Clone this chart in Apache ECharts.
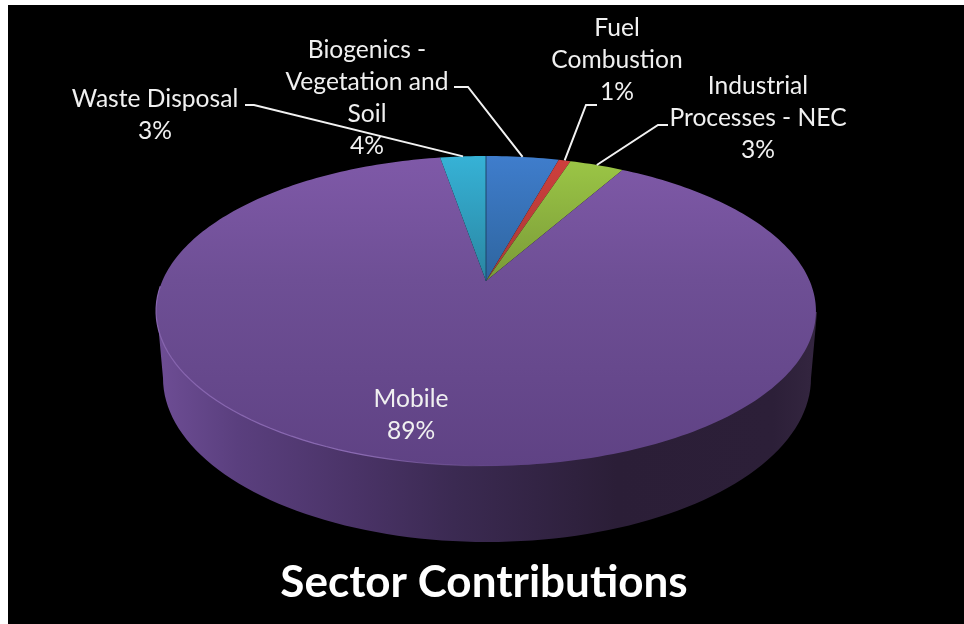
<!DOCTYPE html>
<html><head><meta charset="utf-8">
<style>html,body{margin:0;padding:0;background:#fff}#c{width:964px;height:624px}</style>
<script src="https://cdn.jsdelivr.net/npm/echarts@6/dist/echarts.min.js"></script>
</head><body><div id="c"></div>
<script>
const sectors = ['Biogenics -\nVegetation and\nSoil', 'Fuel\nCombustion', 'Industrial\nProcesses - NEC', 'Mobile', 'Waste Disposal'];
const shares = [4.3, 0.7, 3.2, 89.1, 2.7];
const chartTitle = 'Sector Contributions';

// Layout and style, kept apart from the data
const labelCentre = [[367, 98], [617, 60], [758, 118], [411, 415], [155, 115]];
const leaderElbow = [[[454, 87], [468, 87]], [[597, 105], [586, 105]], [[668, 125], [658, 125]], null, [[245, 105], [254, 105]]];
const shades = [
  [[0, '#3f7dcc'], [0.4, '#2e659f']],
  [[0, '#cf3f3c'], [0.4, '#a83a38']],
  [[0, '#9cc746'], [0.4, '#7a9a38']],
  [[0, '#7f59a8'], [0.4, '#6e4f95'], [1, '#5f4284']],
  [[0, '#36b2d6'], [0.4, '#2a86a2']]
];
const FONT = 'Lato, Carlito, sans-serif';

// Projection of the tilted disc (angle clockwise from the far side of the disc)
const disc = {cx: 486, y0: 281, a: 323.7, b: 94.8, k: 0.1935};
function rim(t, r) {
  r = r === undefined ? 1 : r;
  const x = r * Math.sin(t), y = r * Math.cos(t), w = 1 + disc.k * y;
  return [disc.cx + disc.a * x / w, (disc.y0 - disc.b * y) / w];
}
const base = {cx: 487, cy: 378, rx: 324, ry: 164};
const total = shares.reduce((s, v) => s + v, 0);

function renderItem(params, api) {
  const i = params.dataIndex, v = api.value(0);
  let before = 0;
  for (let j = 0; j < i; j++) before += shares[j];
  const a0 = before / total * 2 * Math.PI, a1 = (before + v) / total * 2 * Math.PI;
  const children = [];

  // side wall: drawn with the slice that spans the near half of the disc
  if (a1 - a0 > Math.PI) {
    const pts = [[157, 312]];
    for (let d = 180; d >= 0; d -= 2) {
      const r = d * Math.PI / 180;
      pts.push([base.cx + base.rx * Math.cos(r), base.cy + base.ry * Math.sin(r)]);
    }
    pts.push([817, 312]);
    children.push({type: 'polygon', z2: 1, shape: {points: pts}, style: {
      fill: {type: 'linear', global: true, x: 160, y: 0, x2: 812, y2: 0, colorStops: [
        {offset: 0, color: '#6d4d94'}, {offset: 0.12, color: '#5a3f7e'}, {offset: 0.3, color: '#4a3367'},
        {offset: 0.45, color: '#3b2a52'}, {offset: 0.7, color: '#2b1e37'}, {offset: 0.94, color: '#2c1f38'},
        {offset: 1, color: '#33253f'}]}
    }});
  }

  // top face
  const pts = [rim(0, 0)];
  const n = Math.max(2, Math.ceil((a1 - a0) / 0.02));
  for (let s = 0; s <= n; s++) pts.push(rim(a0 + (a1 - a0) * s / n));
  children.push({type: 'polygon', z2: 2, shape: {points: pts}, style: {
    fill: {type: 'linear', global: true, x: 0, y: 156, x2: 0, y2: 466,
      colorStops: shades[i].map(c => ({offset: c[0], color: c[1]}))}
  }});

  if (i === 0) {
    children.push({type: 'line', z2: 3, shape: {x1: 486, y1: 156, x2: 486, y2: 281},
      style: {stroke: '#1d4468', lineWidth: 1}});
  }
  if (a1 - a0 > Math.PI) {
    // bevel highlight along the near-left rim
    const hi = [];
    for (let d = 268; d >= 178; d -= 2) hi.push(rim(d * Math.PI / 180));
    children.push({type: 'polyline', z2: 3, shape: {points: hi}, style: {
      fill: 'none', lineWidth: 1.2,
      stroke: {type: 'linear', global: true, x: 157, y: 0, x2: 500, y2: 0, colorStops: [
        {offset: 0, color: '#8664ae'}, {offset: 0.6, color: '#8a6ab2'}, {offset: 1, color: 'rgba(138,106,178,0)'}]}
    }});
  }

  // leader
  const el = leaderElbow[i];
  if (el) {
    const end = rim((a0 + a1) / 2);
    children.push({type: 'polyline', z2: 5, shape: {points: [el[0], el[1], end]},
      style: {fill: 'none', stroke: '#f2f2f2', lineWidth: 2}});
  }

  // label
  children.push({type: 'text', z2: 6, style: {
    text: api.value(1) + '\n' + Math.round(v / total * 100) + '%',
    x: labelCentre[i][0], y: labelCentre[i][1], align: 'center', verticalAlign: 'middle',
    fill: '#f0f0f0', font: '24.6px ' + FONT, lineHeight: 32
  }});
  return {type: 'group', children};
}

const chart = echarts.init(document.getElementById('c'), null, {renderer: 'canvas'});
chart.setOption({
  animation: false,
  backgroundColor: '#ffffff',
  graphic: [{type: 'rect', z: -1, shape: {x: 8, y: 5, width: 956, height: 619}, style: {fill: '#000'}}],
  title: {
    text: chartTitle, left: 484, top: 556, textAlign: 'center',
    textStyle: {color: '#ffffff', fontFamily: FONT, fontWeight: 'bold', fontSize: 44}
  },
  series: [{
    type: 'custom', coordinateSystem: 'none', renderItem,
    dimensions: ['share', 'name'],
    data: shares.map((v, i) => [v, sectors[i]]),
    encode: {value: 0}
  }]
});
chart.setOption({title: {left: 479}});
</script></body></html>
